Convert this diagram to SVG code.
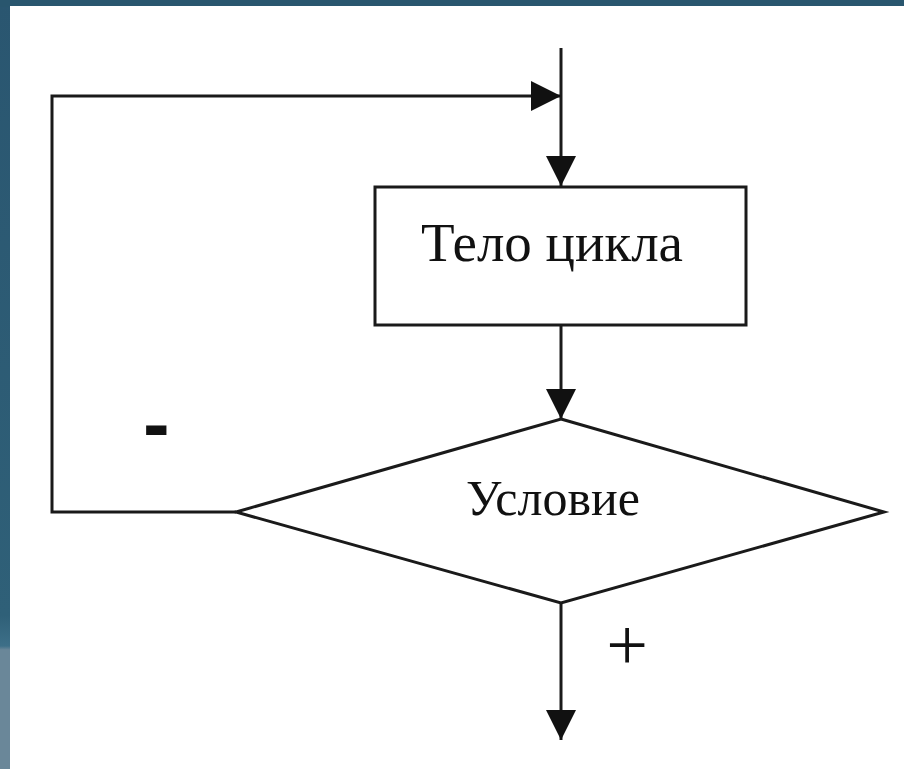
<svg xmlns="http://www.w3.org/2000/svg" width="904" height="769" viewBox="0 0 904 769">
  <style>
    .frame { fill: #ffffff; }
    .shape { fill: #ffffff; stroke: #1a1a1a; stroke-width: 3; }
    .wire { fill: none; stroke: #1a1a1a; stroke-width: 3; }
    .label { font-family: "Liberation Serif", "Times New Roman", serif; fill: #111111; text-anchor: middle; }
    .sign { font-family: "Liberation Sans", Arial, sans-serif; fill: #111111; }
  </style>
  <defs>
    <marker id="arrow" markerUnits="userSpaceOnUse" markerWidth="32" markerHeight="32" refX="30" refY="16" orient="auto">
      <path d="M0,1 L30,16 L0,31 Z" fill="#111111"/>
    </marker>
    <linearGradient id="side" x1="0" y1="0" x2="0" y2="1">
      <stop offset="0" stop-color="#2a5670"/>
      <stop offset="0.8" stop-color="#2f6078"/>
      <stop offset="0.84" stop-color="#3d6f88"/>
      <stop offset="0.845" stop-color="#6a8799"/>
      <stop offset="1" stop-color="#6a8799"/>
    </linearGradient>
  </defs>

  <!-- slide backdrop -->
  <rect x="0" y="0" width="904" height="769" fill="url(#side)"/>
  <rect x="0" y="0" width="904" height="7" fill="#29566e"/>
  <rect class="frame" x="10" y="6" width="894" height="763"/>

  <!-- connectors -->
  <g id="connectors">
    <line class="wire" x1="561" y1="48" x2="561" y2="186" marker-end="url(#arrow)"/>
    <polyline class="wire" points="236,512 52,512 52,96 561,96" marker-end="url(#arrow)"/>
    <line class="wire" x1="561" y1="325" x2="561" y2="419" marker-end="url(#arrow)"/>
    <line class="wire" x1="561" y1="603" x2="561" y2="740" marker-end="url(#arrow)"/>
  </g>

  <!-- loop body -->
  <g id="body">
    <rect class="shape" x="375" y="187" width="371" height="138"/>
    <text class="label" x="552" y="261" font-size="55">Тело цикла</text>
  </g>

  <!-- condition -->
  <g id="condition">
    <polygon class="shape" points="561,419 884,512 561,603 236,512"/>
    <text class="label" x="553" y="515" font-size="50">Условие</text>
  </g>

  <!-- branch signs -->
  <g id="signs">
    <text class="sign" x="143" y="451" font-size="80" font-weight="bold">-</text>
    <text class="label" x="627" y="670" font-size="74">+</text>
  </g>
</svg>
